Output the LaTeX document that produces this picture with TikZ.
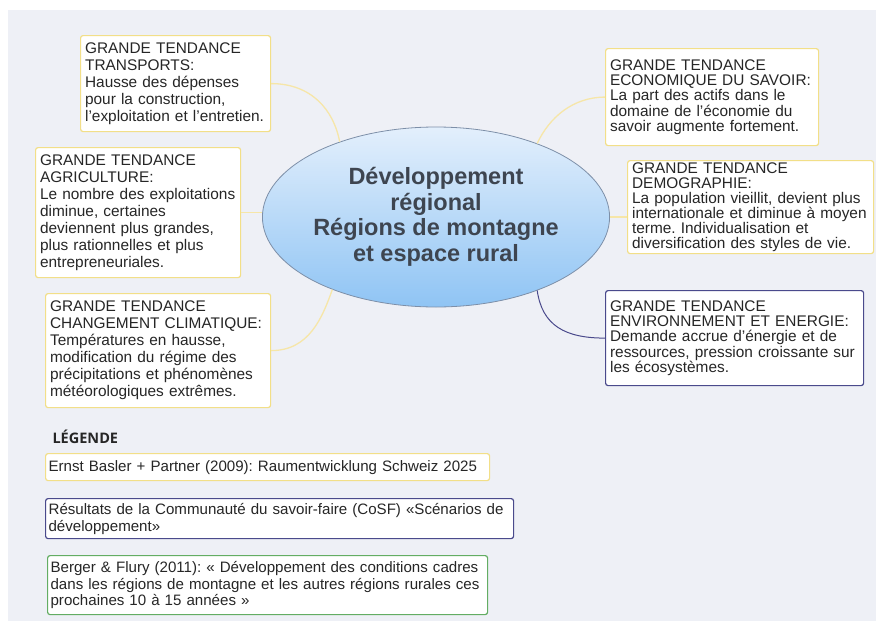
\documentclass[tikz,border=0pt]{standalone}
\usepackage{fontspec}
\setmainfont{Liberation Sans}
\newfontfamily\legfont{Open Sans}
\usetikzlibrary{shapes.geometric}
\definecolor{bgc}{HTML}{EEF0F6}
\definecolor{ylw}{HTML}{F2DF88}
\definecolor{ylwline}{HTML}{F6E6A8}
\definecolor{pur}{HTML}{4A4A8C}
\definecolor{grn}{HTML}{63AD63}
\definecolor{txt}{HTML}{262626}
\definecolor{ctxt}{HTML}{3E4550}
\definecolor{etop}{HTML}{E3EFFC}
\definecolor{ebot}{HTML}{8FC4F4}
\definecolor{eborder}{HTML}{7D8FA8}
\frenchspacing
\begin{document}
\begin{tikzpicture}[x=1pt,y=-1pt,
  box/.style={draw, rounded corners=2.5pt, fill=white, line width=1.2pt,
    anchor=north west, align=left, inner xsep=4.5pt, inner ysep=2pt,
    text=txt, font=\fontsize{15.4}{#1}\selectfont},
  box/.default=17,
  legbox/.style={draw, rounded corners=2.5pt, fill=white, line width=1.2pt,
    anchor=north west, align=left, inner xsep=3pt, inner ysep=2pt,
    text=txt, font=\fontsize{15.1}{#1}\selectfont},
  legbox/.default=17,
  yconn/.style={draw=ylwline, line width=1.3pt},
  pconn/.style={draw=pur, line width=1pt},
  center/.style={ellipse, minimum width=328pt, minimum height=180pt, inner sep=0pt,
    draw=eborder, line width=0.8pt, top color=etop, bottom color=ebot,
    text=ctxt, align=center, font=\bfseries\fontsize{23.5}{25.5}\selectfont}]
\useasboundingbox (0,0) rectangle (883,621);
\fill[bgc] (8,10) rectangle (876,621);

\node[center] (ctr) at (436,217) {Développement\\régional\\Régions de montagne\\et espace rural};

\node[box=17, draw=ylw, text width=181pt, minimum height=96pt] (trans) at (80,35)
 {GRANDE TENDANCE\\TRANSPORTS:\\Hausse des dépenses\\pour la construction,\\l’exploitation et l’entretien.};
\node[box=17, draw=ylw, text width=196pt, minimum height=130pt] (agri) at (35,147)
 {GRANDE TENDANCE\\AGRICULTURE:\\Le nombre des exploitations\\diminue, certaines\\deviennent plus grandes,\\plus rationnelles et plus\\entrepreneuriales.};
\node[box=17, draw=ylw, text width=216pt, minimum height=114pt] (clim) at (45,293)
 {GRANDE TENDANCE\\CHANGEMENT CLIMATIQUE:\\Températures en hausse,\\modification du régime des\\précipitations et phénomènes\\météorologiques extrêmes.};
\node[box=15.2, draw=ylw, text width=204pt, minimum height=97pt] (eco) at (605,48)
 {GRANDE TENDANCE\\ECONOMIQUE DU SAVOIR:\\La part des actifs dans le\\domaine de l'économie du\\savoir augmente fortement.};
\node[box=15, draw=ylw, text width=237pt, minimum height=93pt, inner ysep=1pt] (demo) at (627,160)
 {GRANDE TENDANCE\\DEMOGRAPHIE:\\La population vieillit, devient plus\\internationale et diminue à moyen\\terme. Individualisation et\\diversification des styles de vie.};
\node[box=15.2, draw=pur, text width=249pt, minimum height=95pt] (env) at (605,290)
 {GRANDE TENDANCE\\ENVIRONNEMENT ET ENERGIE:\\Demande accrue d’énergie et de\\ressources, pression croissante sur\\les écosystèmes.};

\draw[yconn] (trans.east) .. controls +(40,0) and +(-6,-32) .. (ctr.142);
\draw[yconn] (agri.east) -- (agri.east -| ctr.west);
\draw[yconn] (clim.east) .. controls +(38,0) and +(-10,28) .. (ctr.-145);
\draw[yconn] (eco.west) .. controls +(-32,0) and +(12,-26) .. (ctr.36);
\draw[yconn] (ctr.east) -- (ctr.east -| demo.west);
\draw[pconn] (ctr.-36) .. controls +(5,35) and +(-40,0) .. (env.west);

\node[anchor=west, text=txt, font=\legfont\bfseries\fontsize{14.5}{16}\selectfont] (leg) at (49,437) {LÉGENDE};
\node[legbox=17, draw=ylw, text width=438pt, minimum height=27pt] (lg1) at (45,453)
 {\mbox{Ernst Basler + Partner (2009): Raumentwicklung Schweiz 2025}};
\node[legbox=17, draw=pur, text width=462pt, minimum height=40pt] (lg2) at (45,498)
 {\mbox{Résultats de la Communauté du savoir-faire (CoSF) «Scénarios de}\\\mbox{développement»}};
\node[legbox=16.7, draw=grn, text width=434pt, minimum height=59pt] (lg3) at (47,555)
 {\mbox{Berger \& Flury (2011): « Développement des conditions cadres}\\\mbox{dans les régions de montagne et les autres régions rurales ces}\\\mbox{prochaines 10 à 15 années »}};
\end{tikzpicture}
\end{document}
